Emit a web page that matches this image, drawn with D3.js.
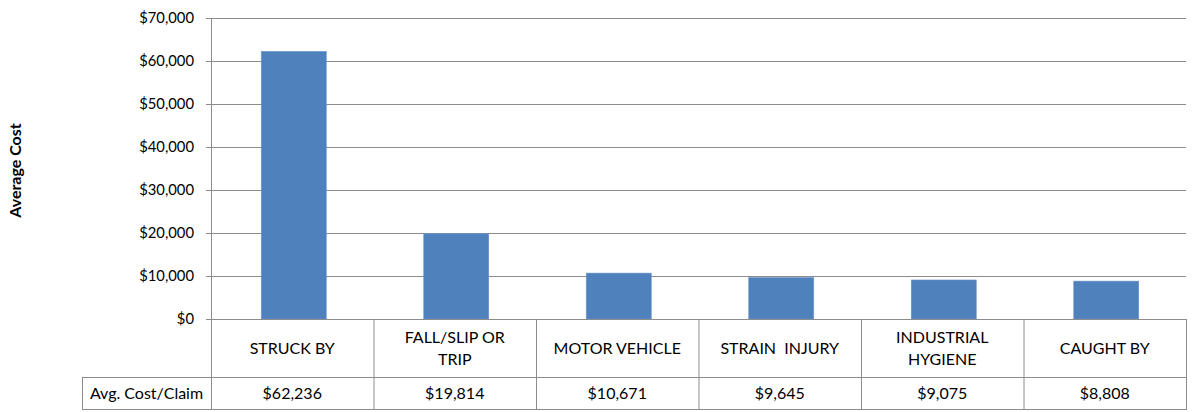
<!DOCTYPE html>
<html><head><meta charset="utf-8">
<script src="https://cdn.jsdelivr.net/npm/d3@7"></script>
<style>body{margin:0;background:#fff}svg{display:block}text{font-family:Lato,"Open Sans",sans-serif;fill:#000;white-space:pre}</style>
</head><body><svg id="c" width="1192" height="412"></svg>
<script>
const categories = [["STRUCK BY"],["FALL/SLIP OR","TRIP"],["MOTOR VEHICLE"],["STRAIN  INJURY"],["INDUSTRIAL","HYGIENE"],["CAUGHT BY"]];
const values = [62236, 19814, 10671, 9645, 9075, 8808];
const valueLabels = ["$62,236","$19,814","$10,671","$9,645","$9,075","$8,808"];
const yTicks = [0,10000,20000,30000,40000,50000,60000,70000];
const rowLabel = "Avg. Cost/Claim";
const yTitle = "Average Cost";

const svg = d3.select("#c");
const L = 211, R = 1186, T = 18, B = 319;
const catRowB = 377, valRowB = 409, labelL = 82;
const idx = d3.range(values.length);
const x = d3.scaleBand().domain(idx).range([L, R]).paddingInner(0.6).paddingOuter(0.3);
const xc = d3.scaleBand().domain(idx).range([L, R]);
const y = d3.scaleLinear().domain([0, 70000]).range([B, T]);
const grid = "#8c8c8c";

svg.append("g").selectAll("line").data(yTicks).join("line")
  .attr("x1", L - 5).attr("x2", R).attr("y1", d => y(d)+0.5).attr("y2", d => y(d)+0.5)
  .attr("stroke", grid).attr("stroke-width", 1);
const fmt = d3.format("$,");
svg.append("g").selectAll("text").data(yTicks).join("text")
  .attr("x", L - 17).attr("y", d => y(d)).attr("dy", "0.35em").attr("text-anchor", "end")
  .attr("font-size", 14.8).text(d => fmt(d));
svg.append("line").attr("x1", L+0.5).attr("x2", L+0.5).attr("y1", T).attr("y2", valRowB).attr("stroke", grid);

svg.append("g").selectAll("rect").data(values).join("rect")
  .attr("x", (d,i) => x(i) + 1.5).attr("width", x.bandwidth())
  .attr("y", d => y(d)).attr("height", d => B - y(d))
  .attr("fill", "#4F81BD").attr("stroke", "#6a96cc").attr("stroke-width", 0.6);

const tb = svg.append("g");
tb.append("rect").attr("x", labelL+0.5).attr("y", catRowB+0.5).attr("width", R-labelL).attr("height", valRowB-catRowB)
  .attr("fill", "none").attr("stroke", grid);
tb.append("line").attr("x1", L).attr("x2", R+0.5).attr("y1", B+0.5).attr("y2", B+0.5).attr("stroke", grid);
idx.forEach(i => {
  tb.append("line").attr("x1", xc(i)+xc.bandwidth()+0.5).attr("x2", xc(i)+xc.bandwidth()+0.5)
    .attr("y1", B).attr("y2", valRowB).attr("stroke", grid);
});
const fs = 16;
idx.forEach(i => {
  const cx = xc(i) + xc.bandwidth()/2;
  const lines = categories[i];
  const cy = (B + catRowB)/2;
  lines.forEach((t, j) => {
    tb.append("text").attr("x", cx).attr("y", cy + (j - (lines.length-1)/2)*22).attr("dy", "0.35em")
      .attr("text-anchor", "middle").attr("font-size", fs).text(t);
  });
  tb.append("text").attr("x", cx).attr("y", (catRowB+valRowB)/2).attr("dy", "0.35em")
    .attr("text-anchor", "middle").attr("font-size", fs).text(valueLabels[i]);
});
tb.append("text").attr("x", (labelL+L)/2).attr("y", (catRowB+valRowB)/2).attr("dy", "0.35em")
  .attr("text-anchor", "middle").attr("font-size", fs).text(rowLabel);

svg.append("text").attr("transform", `translate(21,${(T+B)/2+2}) rotate(-90)`)
  .attr("text-anchor", "middle").attr("font-size", 16).attr("font-weight", "bold").text(yTitle);
</script></body></html>
